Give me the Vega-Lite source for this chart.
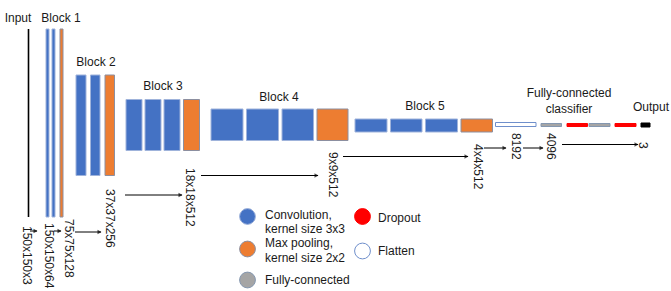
{
  "$schema": "https://vega.github.io/schema/vega-lite/v6.json",
  "width": 671,
  "height": 291,
  "autosize": {"type": "fit", "contains": "padding"},
  "padding": 0,
  "background": "white",
  "config": {"view": {"stroke": null}, "font": "Liberation Sans"},
  "datasets": {
    "bars": [
      {"x": 46, "x2": 49, "y": 29, "y2": 217, "kind": "conv"},
      {"x": 52, "x2": 55, "y": 29, "y2": 217, "kind": "conv"},
      {"x": 60, "x2": 63, "y": 29, "y2": 217, "kind": "pool"},
      {"x": 76, "x2": 86, "y": 75, "y2": 175.5, "kind": "conv"},
      {"x": 90.5, "x2": 100, "y": 75, "y2": 175.5, "kind": "conv"},
      {"x": 105, "x2": 114.5, "y": 75, "y2": 175.5, "kind": "pool"},
      {"x": 126, "x2": 142, "y": 99.5, "y2": 150.5, "kind": "conv"},
      {"x": 145, "x2": 161, "y": 99.5, "y2": 150.5, "kind": "conv"},
      {"x": 164, "x2": 180, "y": 99.5, "y2": 150.5, "kind": "conv"},
      {"x": 183.5, "x2": 199.5, "y": 99.5, "y2": 150.5, "kind": "pool"},
      {"x": 211, "x2": 243, "y": 109, "y2": 140.5, "kind": "conv"},
      {"x": 246.5, "x2": 278.5, "y": 109, "y2": 140.5, "kind": "conv"},
      {"x": 282, "x2": 313.5, "y": 109, "y2": 140.5, "kind": "conv"},
      {"x": 317, "x2": 348, "y": 109, "y2": 140.5, "kind": "pool"},
      {"x": 355, "x2": 387, "y": 119, "y2": 132, "kind": "conv"},
      {"x": 390.5, "x2": 422, "y": 119, "y2": 132, "kind": "conv"},
      {"x": 425.5, "x2": 457.5, "y": 119, "y2": 132, "kind": "conv"},
      {"x": 461, "x2": 492.5, "y": 119, "y2": 132, "kind": "pool"},
      {"x": 495.5, "x2": 536, "y": 122.5, "y2": 126.5, "kind": "flatten"},
      {"x": 541, "x2": 561.5, "y": 123.5, "y2": 126.5, "kind": "fc"},
      {"x": 567, "x2": 587.5, "y": 123.5, "y2": 126.5, "kind": "dropout"},
      {"x": 589, "x2": 610, "y": 123.5, "y2": 126.5, "kind": "fc"},
      {"x": 615, "x2": 636, "y": 123.5, "y2": 126.5, "kind": "dropout"},
      {"x": 641, "x2": 650, "y": 123, "y2": 127, "kind": "output"}
    ],
    "inputLine": [
      {"x": 28.5, "y": 29, "y2": 217}
    ],
    "arrows": [
      {"x": 30, "x2": 37, "y": 231},
      {"x": 54, "x2": 61, "y": 231},
      {"x": 75, "x2": 101, "y": 232},
      {"x": 125, "x2": 182, "y": 195},
      {"x": 201, "x2": 318, "y": 175.5},
      {"x": 343, "x2": 468, "y": 156.5},
      {"x": 484, "x2": 506, "y": 148},
      {"x": 523, "x2": 543, "y": 148},
      {"x": 562, "x2": 638, "y": 144.5}
    ],
    "titles": [
      {"x": 18, "y": 22, "text": "Input"},
      {"x": 61, "y": 22, "text": "Block 1"},
      {"x": 96, "y": 66, "text": "Block 2"},
      {"x": 163, "y": 90, "text": "Block 3"},
      {"x": 279, "y": 101, "text": "Block 4"},
      {"x": 425, "y": 110, "text": "Block 5"},
      {"x": 569, "y": 97, "text": "Fully-connected"},
      {"x": 569, "y": 113, "text": "classifier"},
      {"x": 651, "y": 111, "text": "Output"}
    ],
    "dims": [
      {"x": 27, "y": 226, "text": "150x150x3"},
      {"x": 48.5, "y": 223, "text": "150x150x64"},
      {"x": 69, "y": 219, "text": "75x75x128"},
      {"x": 110, "y": 189, "text": "37x37x256"},
      {"x": 189.5, "y": 168, "text": "18x18x512"},
      {"x": 333, "y": 152, "text": "9x9x512"},
      {"x": 478, "y": 144, "text": "4x4x512"},
      {"x": 515.5, "y": 133, "text": "8192"},
      {"x": 551, "y": 133, "text": "4096"},
      {"x": 643, "y": 142, "text": "3"}
    ],
    "legendDots": [
      {"x": 247.5, "y": 216.5, "kind": "conv"},
      {"x": 247.5, "y": 249, "kind": "pool"},
      {"x": 247.5, "y": 280, "kind": "fc"},
      {"x": 362.5, "y": 216.5, "kind": "dropout"},
      {"x": 362.5, "y": 251, "kind": "flatten"}
    ],
    "legendText": [
      {"x": 265, "y": 219, "text": "Convolution,"},
      {"x": 265, "y": 233, "text": "kernel size 3x3"},
      {"x": 265, "y": 247, "text": "Max pooling,"},
      {"x": 265, "y": 262, "text": "kernel size 2x2"},
      {"x": 265, "y": 284, "text": "Fully-connected"},
      {"x": 378, "y": 222, "text": "Dropout"},
      {"x": 378, "y": 255, "text": "Flatten"}
    ]
  },
  "layer": [
    {
      "data": {"name": "bars"},
      "mark": {"type": "rect", "strokeWidth": 1},
      "encoding": {
        "x": {"field": "x", "type": "quantitative", "scale": {"domain": [0, 671], "nice": false, "zero": false}, "axis": null},
        "x2": {"field": "x2"},
        "y": {"field": "y", "type": "quantitative", "scale": {"domain": [0, 291], "nice": false, "zero": false, "reverse": true}, "axis": null},
        "y2": {"field": "y2"},
        "color": {"field": "kind", "type": "nominal", "legend": null,
          "scale": {"domain": ["conv", "pool", "fc", "dropout", "flatten", "output"],
                    "range": ["#4472C4", "#ED7D31", "#A5A5A5", "#FF0000", "#FFFFFF", "#000000"]}},
        "stroke": {"field": "kind", "type": "nominal", "legend": null,
          "scale": {"domain": ["conv", "pool", "fc", "dropout", "flatten", "output"],
                    "range": ["#9FB3DB", "#8C8FA0", "#8497B0", "#FF0000", "#6F8FCB", "#000000"]}}
      }
    },
    {
      "data": {"name": "inputLine"},
      "mark": {"type": "rule", "color": "#000000", "strokeWidth": 1.6},
      "encoding": {
        "x": {"field": "x", "type": "quantitative"},
        "y": {"field": "y", "type": "quantitative"},
        "y2": {"field": "y2"}
      }
    },
    {
      "data": {"name": "arrows"},
      "mark": {"type": "rule", "color": "#000000", "strokeWidth": 1},
      "encoding": {
        "x": {"field": "x", "type": "quantitative"},
        "x2": {"field": "x2"},
        "y": {"field": "y", "type": "quantitative"}
      }
    },
    {
      "data": {"name": "arrows"},
      "mark": {"type": "point", "shape": "triangle-right", "filled": true, "color": "#000000", "size": 22, "xOffset": -1.5},
      "encoding": {
        "x": {"field": "x2", "type": "quantitative"},
        "y": {"field": "y", "type": "quantitative"}
      }
    },
    {
      "data": {"name": "titles"},
      "mark": {"type": "text", "align": "center", "baseline": "alphabetic", "fontSize": 12, "color": "#1a1a1a"},
      "encoding": {
        "x": {"field": "x", "type": "quantitative"},
        "y": {"field": "y", "type": "quantitative"},
        "text": {"field": "text"}
      }
    },
    {
      "data": {"name": "dims"},
      "mark": {"type": "text", "align": "left", "baseline": "middle", "angle": 90, "fontSize": 12, "color": "#1a1a1a"},
      "encoding": {
        "x": {"field": "x", "type": "quantitative"},
        "y": {"field": "y", "type": "quantitative"},
        "text": {"field": "text"}
      }
    },
    {
      "data": {"name": "legendDots"},
      "mark": {"type": "point", "shape": "circle", "filled": true, "size": 250, "strokeWidth": 1, "opacity": 1},
      "encoding": {
        "x": {"field": "x", "type": "quantitative"},
        "y": {"field": "y", "type": "quantitative"},
        "color": {"field": "kind", "type": "nominal", "legend": null},
        "stroke": {"field": "kind", "type": "nominal", "legend": null}
      }
    },
    {
      "data": {"name": "legendText"},
      "mark": {"type": "text", "align": "left", "baseline": "alphabetic", "fontSize": 12, "color": "#1a1a1a"},
      "encoding": {
        "x": {"field": "x", "type": "quantitative"},
        "y": {"field": "y", "type": "quantitative"},
        "text": {"field": "text"}
      }
    }
  ]
}
